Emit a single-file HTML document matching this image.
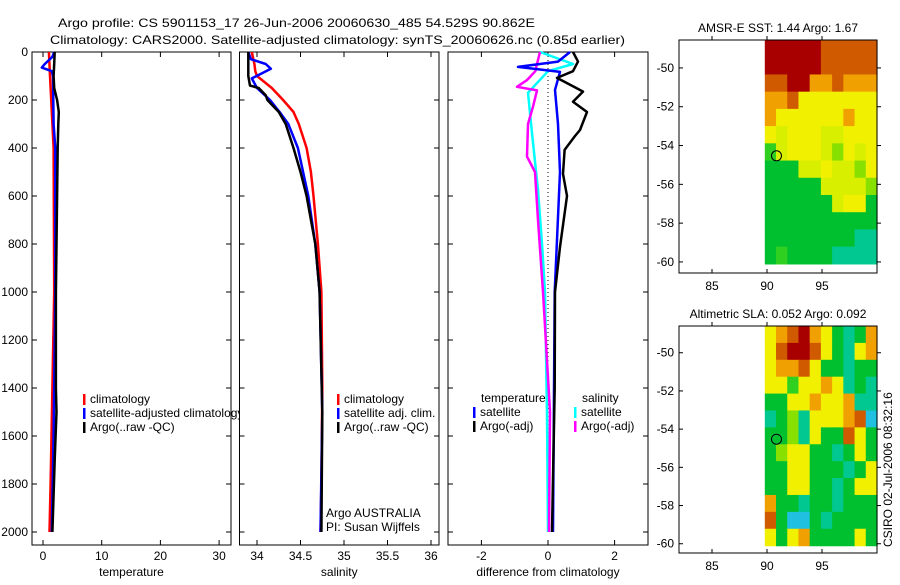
<!DOCTYPE html>
<html><head><meta charset="utf-8"><style>
body{margin:0;background:#fff;width:900px;height:580px;overflow:hidden}
svg text{font-family:"Liberation Sans",sans-serif;font-size:12px;fill:#000}
</style></head><body>
<svg id="fig" width="900" height="580" viewBox="0 0 900 580" xmlns="http://www.w3.org/2000/svg">
<text x="58" y="27" font-size="15.5" textLength="477" lengthAdjust="spacingAndGlyphs">Argo profile: CS 5901153_17 26-Jun-2006 20060630_485 54.529S 90.862E</text>
<text x="50" y="44" font-size="15.5" textLength="575" lengthAdjust="spacingAndGlyphs">Climatology: CARS2000. Satellite-adjusted climatology: synTS_20060626.nc (0.85d earlier)</text>
<g id="g"></g>
<text transform="translate(892,547) rotate(-90)">CSIRO 02-Jul-2006 08:32:16</text>
</svg>
<script>
// ---- profile data (depth in dbar) ----
const yTicks=[0,200,400,600,800,1000,1200,1400,1600,1800,2000];
const tempTicks=[0,10,20,30];
const salTicks=[34,34.5,35,35.5,36];
const salTickLabels=["34","34.5","35","35.5","36"];
const diffTicks=[-2,0,2];
const tClimD=[0,100,200,400,1000,1400,1800,2000];
const tClimV=[1.0,1.2,1.4,1.8,1.9,1.6,1.3,1.1];
const tSatD=[0,20,50,65,80,100,300,400,1000,1600,2000];
const tSatV=[1.9,1.6,0.3,-0.2,1.5,1.7,1.8,2.1,2.1,1.8,1.5];
const tArgD=[0,50,100,150,200,250,300,400,600,1000,1400,1500,1700,2000];
const tArgV=[2.0,1.9,1.8,1.9,2.4,2.7,2.6,2.5,2.4,2.2,2.2,2.3,2.0,1.6];
const sClimD=[0,50,80,100,150,200,250,300,400,500,600,800,1000,1400,1800,2000];
const sClimV=[33.94,33.97,33.98,34.0,34.17,34.3,34.42,34.48,34.57,34.62,34.65,34.70,34.74,34.75,34.74,34.73];
const sSatD=[0,30,50,70,90,110,150,200,250,300,400,600,800,1000,1500,2000];
const sSatV=[33.9,33.93,34.1,34.16,34.05,33.94,34.0,34.15,34.26,34.36,34.47,34.59,34.67,34.72,34.75,34.73];
const sArgD=[0,100,140,150,180,200,250,300,400,500,600,800,1000,1500,2000];
const sArgV=[33.9,33.9,33.92,34.02,34.1,34.12,34.25,34.33,34.42,34.5,34.57,34.67,34.72,34.75,34.74];
const dTSatD=[0,40,62,83,158,300,500,1000,2000];
const dTSatV=[0.66,0.3,-0.9,0.36,0.21,0.3,0.36,0.2,0.15];
const dTArgD=[0,40,80,108,150,165,207,250,325,350,408,508,600,812,1000,1400,2000];
const dTArgV=[0.75,0.9,0.75,0.27,0.85,1.05,0.75,1.17,0.96,0.81,0.5,0.45,0.57,0.36,0.21,0.2,0.12];
const dSSatD=[0,50,80,170,338,575,800,1000,1500,2000];
const dSSatV=[-0.24,0.75,0,-0.6,-0.48,-0.3,-0.18,-0.09,-0.03,0];
const dSArgD=[0,50,80,117,145,160,228,300,436,500,700,1000,1500,2000];
const dSArgV=[-0.24,-0.33,-0.38,-0.63,-0.93,-0.33,-0.45,-0.6,-0.63,-0.39,-0.3,-0.15,0.06,0.03];
// ---- map data (color codes, rows north->south) ----
const sstGrid=["RRRRROOOOO","RRRRROOOOO","OORRooOooo","ooOYYYYYYY","oYYYYYYoYY","YyYYYyyYYY","gyYYYyLYyY","GGGyyYyyLY","GGGGGyyyyL","GGGGGGyYYG","GGGGGGGGGG","GGGGGGGGCC","GgGGGGCCCC"];
const slaGrid=["YoORoYGCGo","YORROYGCYo","YooOYGGCGG","YYgYYoYCGC","GGYYoYYoCC","CGLCYYYoOB","GGLCYGGOYG","GLYYGGCGYG","GGYYGGGCGY","GGYYGGCGYY","oGGCGGCGGG","OGBBGCGGGG","YGYoGGGGYG"];
const palette={R:"#a80000",O:"#d05a00",o:"#f0a000",Y:"#f0f000",y:"#d8f000",L:"#88e000",g:"#30d020",G:"#00c030",C:"#00c890",B:"#20c0e0"};
const latTicks=[-50,-52,-54,-56,-58,-60];
const lonTicks=[85,90,95];
const argoLat=-54.529, argoLon=90.862;

const NS="http://www.w3.org/2000/svg", G=document.getElementById('g');
function el(t,a,p){const e=document.createElementNS(NS,t);for(const k in a)e.setAttribute(k,a[k]);(p||G).appendChild(e);return e;}
const yD=d=>52+d*0.24;
function panel(name,x0,x1,xs,ticks,labels,xlabel,showY){
  const p=el('rect',{x:x0,y:52,width:x1-x0,height:493,fill:'none',stroke:'#000'});
  
  
  ticks.forEach((t,i)=>{const x=xs(t);
    el('line',{x1:x,x2:x,y1:545,y2:540,stroke:'#000'});el('line',{x1:x,x2:x,y1:52,y2:57,stroke:'#000'});
    const tx=el('text',{x:x,y:560,'text-anchor':'middle'});tx.textContent=labels[i];
    
    });
  yTicks.forEach(d=>{const y=yD(d);
    el('line',{x1:x0,x2:x0+5,y1:y,y2:y,stroke:'#000'});el('line',{x1:x1,x2:x1-5,y1:y,y2:y,stroke:'#000'});
    if(showY){const tx=el('text',{x:x0-4,y:y+4,'text-anchor':'end'});tx.textContent=d;
      
      }});
  const xl=el('text',{x:(x0+x1)/2,y:576,'text-anchor':'middle'});xl.textContent=xlabel;
  
  
}
function line(name,D,V,xs,col,w){
  const pts=D.map((d,i)=>xs(V[i]).toFixed(1)+','+yD(d).toFixed(1)).join(' ');
  const l=el('polyline',{points:pts,fill:'none',stroke:col,'stroke-width':w||2.5,'stroke-linejoin':'round'});
  
  
}
function legend(name,x,y,col,txt){
  el('rect',{x:x,y:y-9,width:2.5,height:11,fill:col});
  const t=el('text',{x:x+7,y:y});t.textContent=txt;
  
  
}
// temperature panel
const xT=t=>43+t*5.87;
panel('temperature-panel',32,231,xT,tempTicks,tempTicks.map(String),'temperature',true);
line('temp-climatology-line',tClimD,tClimV,xT,'#f00');
line('temp-satellite-line',tSatD,tSatV,xT,'#00f');
line('temp-argo-line',tArgD,tArgV,xT,'#000');
legend('legend-climatology',83,403,'#f00','climatology');
legend('legend-satellite-adjusted',83,417,'#00f','satellite-adjusted climatology');
legend('legend-argo',83,431,'#000','Argo(..raw -QC)');
el('rect',{x:240,y:380,width:20,height:60,fill:'#fff'});
// salinity panel
const xS=s=>257+(s-34)*87;
panel('salinity-panel',239.5,439,xS,salTicks,salTickLabels,'salinity',false);
line('sal-climatology-line',sClimD,sClimV,xS,'#f00');
line('sal-satellite-line',sSatD,sSatV,xS,'#00f');
line('sal-argo-line',sArgD,sArgV,xS,'#000');
legend('sal-legend-climatology',337,403,'#f00','climatology');
legend('sal-legend-satellite',337,417,'#00f','satellite adj. clim.');
legend('sal-legend-argo',337,431,'#000','Argo(..raw -QC)');
[['Argo AUSTRALIA',517],['PI: Susan Wijffels',531]].forEach(([s,y])=>{const t=el('text',{x:326,y:y});t.textContent=s;
  
  });
// difference panel
const xDf=d=>548+d*33.3;
panel('difference-panel',448,648,xDf,diffTicks,diffTicks.map(String),'difference from climatology',false);
el('line',{x1:548,x2:548,y1:52,y2:532,stroke:'#000','stroke-dasharray':'1,3'});
line('diff-sal-satellite-line',dSSatD,dSSatV,xDf,'#0ff');
line('diff-sal-argo-line',dSArgD,dSArgV,xDf,'#f0f');
line('diff-temp-satellite-line',dTSatD,dTSatV,xDf,'#00f');
line('diff-temp-argo-line',dTArgD,dTArgV,xDf,'#000');
[['temperature',481,402],['salinity',582,402]].forEach(([s,x,y])=>{const t=el('text',{x:x,y:y});t.textContent=s;
  
  });
legend('diff-legend-temp-satellite',473,416,'#00f','satellite');
legend('diff-legend-temp-argo',473,430,'#000','Argo(-adj)');
legend('diff-legend-sal-satellite',574,416,'#0ff','satellite');
legend('diff-legend-sal-argo',574,430,'#f0f','Argo(-adj)');
// maps
function map(name,top,bottom,latTop,pxDeg,grid,title){
  const x0=679,x1=877,xL=l=>767+(l-90)*11,yL=l=>top+(latTop-l)*pxDeg;
  const t=el('text',{x:(x0+x1)/2,y:top-8,'text-anchor':'middle'});t.textContent=title;
  
  
  const nr=grid.length,nc=grid[0].length,gx0=xL(89.8),gx1=x1,gy0=top,gy1=yL(-60.1);
  const cw=(gx1-gx0)/nc,ch=(gy1-gy0)/nr;
  grid.forEach((row,r)=>[...row].forEach((c,k)=>el('rect',{x:gx0+k*cw,y:gy0+r*ch,width:cw+0.6,height:ch+0.6,fill:palette[c]})));
  const f=el('rect',{x:x0,y:top,width:x1-x0,height:bottom-top,fill:'none',stroke:'#000'});
  
  
  latTicks.forEach(l=>{const y=yL(l);el('line',{x1:x0,x2:x0+4,y1:y,y2:y,stroke:'#000'});el('line',{x1:x1,x2:x1+4,y1:y,y2:y,stroke:'#000'});
    const tx=el('text',{x:x0-5,y:y+4,'text-anchor':'end'});tx.textContent=l;
    
    });
  lonTicks.forEach(l=>{const x=xL(l);el('line',{x1:x,x2:x,y1:top,y2:top-4,stroke:'#000'});el('line',{x1:x,x2:x,y1:bottom,y2:bottom-4,stroke:'#000'});
    const tx=el('text',{x:x,y:bottom+17,'text-anchor':'middle'});tx.textContent=l;
    
    });
  const c=el('circle',{cx:xL(argoLon),cy:yL(argoLat),r:5,fill:'none',stroke:'#000'});
  
  
}
map('sst-map',40,273,-48.56,19.4,sstGrid,'AMSR-E SST: 1.44  Argo: 1.67');
map('sla-map',326,553,-48.6,19.1,slaGrid,'Altimetric SLA: 0.052  Argo: 0.092');
</script>
</body></html>
